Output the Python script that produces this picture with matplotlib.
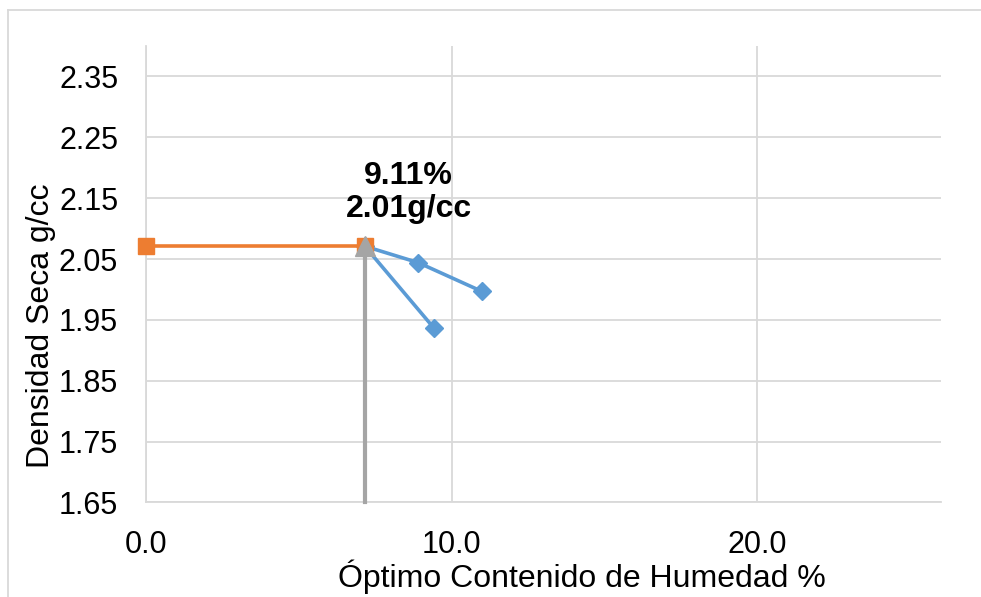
"""Compaction curve (Proctor): dry density vs. moisture content."""
import matplotlib
matplotlib.use("Agg")
import matplotlib.pyplot as plt
from matplotlib.lines import Line2D

plt.rcParams["font.family"] = ["Liberation Sans", "DejaVu Sans"]

# --- data ------------------------------------------------------------------ #
# compaction test points (moisture %, dry density g/cc)
curve_x = [9.43, 7.16, 8.91, 10.98]
curve_y = [1.936, 2.071, 2.044, 1.997]

# horizontal reference to the density axis
dens_ref_x = [0.0, 7.16]
dens_ref_y = [2.071, 2.071]

# vertical reference down to the moisture axis
hum_ref_x = [7.16, 7.16]
hum_ref_y = [1.65, 2.071]

x_ticks = [0.0, 10.0, 20.0]
x_ticklabels = ["0.0", "10.0", "20.0"]
y_ticks = [1.65, 1.75, 1.85, 1.95, 2.05, 2.15, 2.25, 2.35]
y_ticklabels = ["1.65", "1.75", "1.85", "1.95", "2.05", "2.15", "2.25", "2.35"]

annot_text = "9.11%\n2.01g/cc"
annot_pos = (8.59, 2.159)

BLUE = "#5B9BD5"
ORANGE = "#ED7D31"
GREY = "#A5A5A5"
GRID = "#D9D9D9"

fig = plt.figure(figsize=(9.81, 5.97), dpi=100)
ax = fig.add_axes([0.1488, 0.1583, 0.9589 - 0.1488, 0.923 - 0.1583])

ax.plot(curve_x, curve_y, color=BLUE, lw=2.6, marker="D", markersize=9.5,
        zorder=3, clip_on=False)
ax.plot(dens_ref_x, dens_ref_y, color=ORANGE, lw=2.6, marker="s",
        markersize=11.5, zorder=4, clip_on=False)
ax.plot(hum_ref_x, hum_ref_y, color=GREY, lw=3.0, marker="^", markersize=14,
        markevery=[1], zorder=5, clip_on=False)

ax.text(annot_pos[0], annot_pos[1], annot_text, ha="center", va="center",
        fontsize=23, fontweight="bold", linespacing=1.15, zorder=6)

ax.set_xlim(0, 26)
ax.set_ylim(1.65, 2.40)
ax.set_xticks(x_ticks)
ax.set_xticklabels(x_ticklabels)
ax.set_yticks(y_ticks)
ax.set_yticklabels(y_ticklabels)
ax.tick_params(length=0, labelsize=22, pad=20, colors="black")

ax.grid(True, color=GRID, lw=1.3, zorder=0)
ax.set_axisbelow(True)
for side in ("top", "right"):
    ax.spines[side].set_visible(False)
for side in ("left", "bottom"):
    ax.spines[side].set_color(GRID)
    ax.spines[side].set_linewidth(1.3)

fig.text(582 / 981, 1 - 587 / 597, "Óptimo Contenido de Humedad %",
         ha="center", va="baseline", fontsize=23)
fig.text(41 / 981, 1 - 326 / 597, "Densidad Seca g/cc", rotation=90,
         ha="center", va="center", fontsize=23)

# chart-area border (top and left edges)
fig.add_artist(Line2D([8 / 981, 1.0], [1 - 10 / 597] * 2,
                      transform=fig.transFigure, color=GRID, lw=1.3))
fig.add_artist(Line2D([8 / 981] * 2, [0.0, 1 - 10 / 597],
                      transform=fig.transFigure, color=GRID, lw=1.3))

fig.savefig("out.png", dpi=100)
